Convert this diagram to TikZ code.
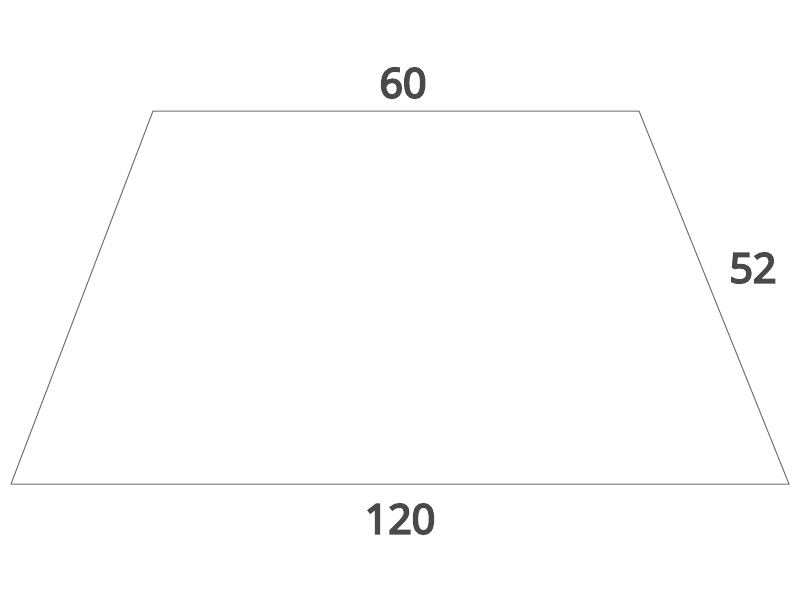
\documentclass[tikz,border=0pt]{standalone}
\usepackage{fontspec}
\setmainfont{Open Sans}
\newfontfamily\dimfont[FakeBold=5]{Open Sans}
\definecolor{txtgray}{HTML}{4A4A4A}
\definecolor{linegray}{HTML}{707070}
\begin{document}
\begin{tikzpicture}[x=1pt,y=-1pt,
  edge/.style={draw=linegray,line width=1pt,line join=miter},
  dimlabel/.style={text=txtgray,font=\dimfont\fontsize{41}{45}\selectfont,inner sep=0pt,anchor=center}]
\useasboundingbox[fill=white] (0,0) rectangle (800,600);
\coordinate (tl) at (153,111);
\coordinate (tr) at (639,111);
\coordinate (br) at (789,484);
\coordinate (bl) at (11,484);
\draw[edge] (tl) -- (tr) -- (br) -- (bl) -- cycle;
\node[dimlabel] (top) at (403,83) {60};
\node[dimlabel] (side) at (753,268) {52};
\node[dimlabel] (bottom) at (400,519) {120};
\end{tikzpicture}
\end{document}
